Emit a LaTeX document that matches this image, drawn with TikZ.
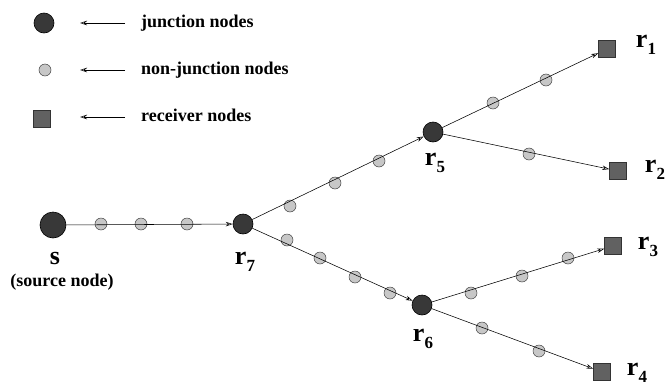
\documentclass[tikz,border=0pt]{standalone}
\usepackage{fontspec}
\setmainfont{Liberation Serif}
\usetikzlibrary{arrows.meta}
\begin{document}
\begin{tikzpicture}[x=1pt,y=-1pt,
  junc/.style={circle,draw=black,fill=black!78,inner sep=0pt,minimum size=20pt,line width=0.6pt},
  src/.style={junc,minimum size=26pt},
  nonj/.style={circle,draw=black!75,fill=black!22,inner sep=0pt,minimum size=12pt,line width=0.5pt},
  recv/.style={rectangle,draw=black!80,fill=black!62,inner sep=0pt,minimum size=17pt,line width=0.5pt},
  conn/.style={line width=0.55pt,-{Stealth[length=7pt,width=4.5pt,open]}},
  lbl/.style={font=\fontsize{26}{26}\selectfont\bfseries,inner sep=0pt},
  legtxt/.style={font=\fontsize{18}{18}\selectfont\bfseries,anchor=west,inner sep=0pt},
  srctxt/.style={font=\fontsize{18}{18}\selectfont\bfseries,inner sep=0pt}]
\useasboundingbox (0,0) rectangle (666,386);
\newcommand{\rsub}[1]{r\raisebox{-7pt}{\fontsize{17}{17}\selectfont\bfseries #1}}
% legend
\node[junc] (lj) at (44,23) {};
\node[nonj] (ln) at (45,70) {};
\node[recv] (lr) at (42,119) {};
\coordinate (lja) at (125,23); \coordinate (ljb) at (80,23);
\coordinate (lna) at (125,70); \coordinate (lnb) at (80,70);
\coordinate (lra) at (125,117); \coordinate (lrb) at (80,117);
\draw[conn] (lja) -- (ljb);
\draw[conn] (lna) -- (lnb);
\draw[conn] (lra) -- (lrb);
\node[legtxt] (tj) at (141,23) {junction nodes};
\node[legtxt] (tn) at (141,70) {non-junction nodes};
\node[legtxt] (tr) at (141,115) {receiver nodes};
% main nodes
\node[src] (s) at (53,225) {};
\node[junc] (r7) at (243,224) {};
\node[junc] (r5) at (433,132) {};
\node[junc] (r6) at (422,305) {};
\node[recv] (r1) at (607,49) {};
\node[recv] (r2) at (618,171) {};
\node[recv] (r3) at (613,246) {};
\node[recv] (r4) at (602,372) {};
% non-junction nodes
\node[nonj] (a1) at (101,224) {};
\node[nonj] (a2) at (141,224) {};
\node[nonj] (a3) at (187,224) {};
\node[nonj] (b1) at (290,206) {};
\node[nonj] (b2) at (335,183) {};
\node[nonj] (b3) at (379,161) {};
\node[nonj] (c1) at (493,103) {};
\node[nonj] (c2) at (546,80) {};
\node[nonj] (d1) at (529,154) {};
\node[nonj] (e1) at (287,240) {};
\node[nonj] (e2) at (320,258) {};
\node[nonj] (e3) at (355,277) {};
\node[nonj] (e4) at (390,293) {};
\node[nonj] (f1) at (471,293) {};
\node[nonj] (f2) at (522,276) {};
\node[nonj] (f3) at (568,258) {};
\node[nonj] (g1) at (482,328) {};
\node[nonj] (g2) at (539,351) {};
% connectors
\draw[conn] (s) -- (r7);
\draw[conn] (r7) -- (r5);
\draw[conn] (r7) -- (r6);
\draw[conn] (r5) -- (r1);
\draw[conn] (r5) -- (r2);
\draw[conn] (r6) -- (r3);
\draw[conn] (r6) -- (r4);
% labels
\node[lbl] (ls) at (55,258) {s};
\node[srctxt] (lsn) at (62,282) {(source node)};
\node[lbl] (l7) at (245,262) {\rsub{7}};
\node[lbl] (l5) at (435,163) {\rsub{5}};
\node[lbl] (l6) at (423,339) {\rsub{6}};
\node[lbl] (l1) at (646,45) {\rsub{1}};
\node[lbl] (l2) at (655,170) {\rsub{2}};
\node[lbl] (l3) at (648,247) {\rsub{3}};
\node[lbl] (l4) at (637,373) {\rsub{4}};
\end{tikzpicture}
\end{document}
